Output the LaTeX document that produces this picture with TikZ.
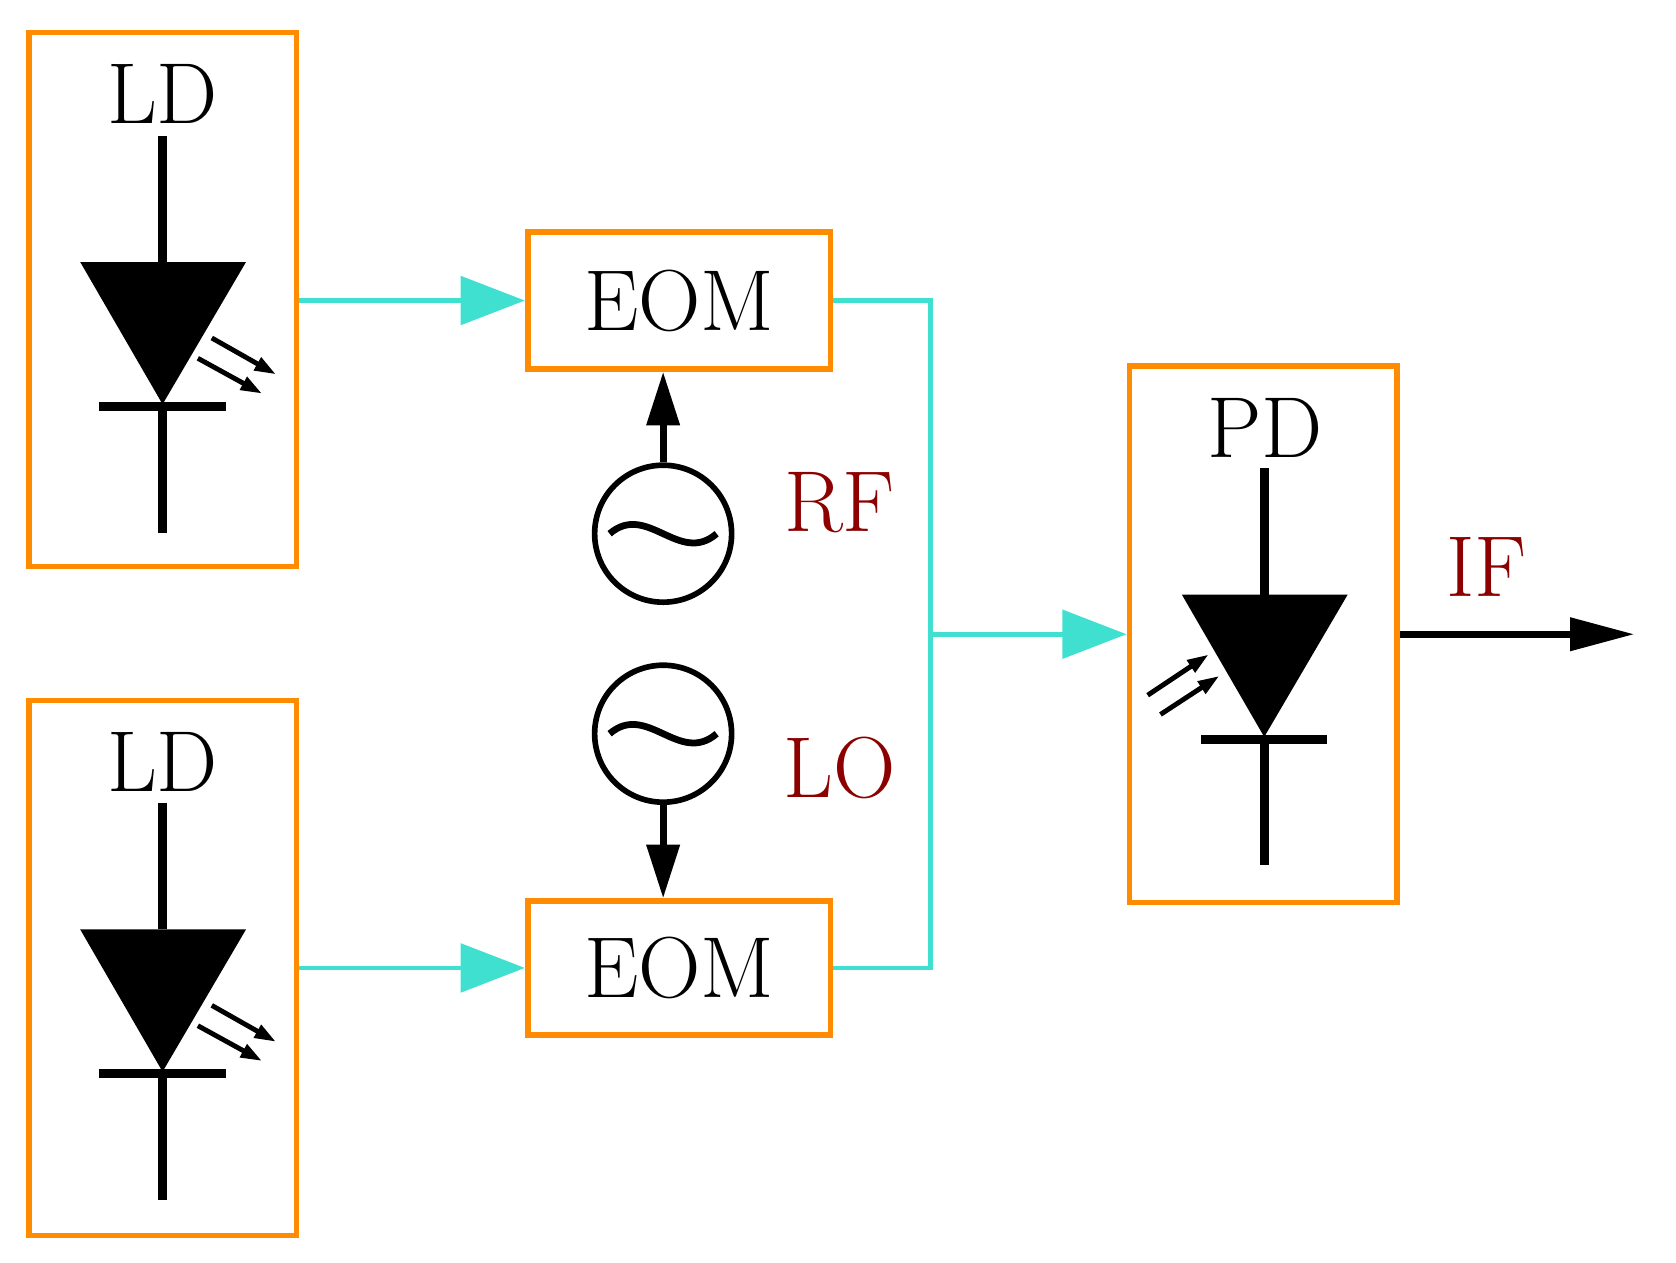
\documentclass[tikz,border=0pt]{standalone}
\usetikzlibrary{arrows.meta}
\definecolor{org}{RGB}{255,140,0}
\definecolor{cy}{RGB}{64,224,208}
\definecolor{dr}{RGB}{140,0,0}
\begin{document}
\begin{tikzpicture}[x=0.01cm,y=-0.01cm,
 box/.style={draw=org,line width=1.5pt,inner sep=0pt},
 big/.style={font=\fontsize{23}{28}\selectfont},
 cyl/.style={cy,line width=1.3pt},
 cyarr/.style={cyl,-{Triangle[length=0.6cm,width=0.45cm]}},
 blk/.style={line width=2.4pt},
 barr/.style={line width=1.8pt,-{Triangle[length=0.5cm,width=0.3cm]}},
 em/.style={line width=1.3pt,-{Triangle[length=0.2cm,width=0.13cm]}},
 src/.style={circle,draw,line width=1.5pt,minimum size=1.28cm,inner sep=0pt}]
\useasboundingbox (0,0) rectangle (1567,1180);
% diode pieces
\newcommand\mydiode[4]{% x, ytop, ylabel-offset, flipped arrows
 \fill (#1-77,#2+118) -- (#1+78,#2+118) -- (#1,#2+251) -- cycle;
 \draw[blk] (#1,#2) -- (#1,#2+118);
 \draw[blk] (#1-59,#2+253) -- (#1+59,#2+253);
 \draw[blk] (#1,#2+251) -- (#1,#2+371);}
% LD boxes
\node[box,minimum width=2.5cm,minimum height=4.99cm] (ld1) at (152,280) {};
\node[box,minimum width=2.5cm,minimum height=5cm] (ld2) at (152,905) {};
\node[big] (ldt1) at (152,88) {LD};
\node[big] (ldt2) at (152,712) {LD};
\mydiode{152}{127}{}{}
\mydiode{152}{751}{}{}
\foreach \dy in {0,624}{
 \draw[em] (185,335+\dy) -- (245,368+\dy);
 \draw[em] (198,316+\dy) -- (258,350+\dy);}
% EOM
\node[box,big,minimum width=2.83cm,minimum height=1.28cm] (eom1) at (635,281) {EOM};
\node[box,big,minimum width=2.83cm,minimum height=1.25cm] (eom2) at (635,905) {EOM};
% sources
\node[src] (rf) at (620,499) {};
\node[src] (lo) at (620,686) {};
\foreach \s in {rf,lo}
 \draw[line width=1.8pt] ([xshift=-0.5cm]\s.center) .. controls ([xshift=-0.15cm,yshift=0.3cm]\s.center) and ([xshift=0.15cm,yshift=-0.3cm]\s.center) .. ([xshift=0.5cm]\s.center);
\node[big,text=dr] (rft) at (785,470) {RF};
\node[big,text=dr] (lot) at (785,718) {LO};
\draw[barr] (rf.north) -- (eom1.south -| rf.north);
\draw[barr] (lo.south) -- (eom2.north -| lo.south);
% PD
\node[box,minimum width=2.5cm,minimum height=5.01cm] (pd) at (1181,593) {};
\node[big] (pdt) at (1183,400) {PD};
\mydiode{1182}{438}{}{}
\draw[em] (1073,650) -- (1130,612);
\draw[em] (1085,668) -- (1140,632);
% cyan
\coordinate (j1) at (870,281);
\coordinate (j2) at (870,905);
\coordinate (jm) at (870,593);
\draw[cyarr] (ld1.east |- eom1.west) -- (eom1.west);
\draw[cyarr] (ld2.east |- eom2.west) -- (eom2.west);
\draw[cyl] (eom1.east) -- (j1) -- (j2) -- (eom2.east);
\draw[cyarr] (jm) -- (pd.west);
% IF
\coordinate (ifend) at (1528,593);
\draw[line width=1.8pt,-{Triangle[length=0.6cm,width=0.3cm]}] (pd.east) -- (ifend);
\node[big,text=dr] (ift) at (1390,530) {IF};
\end{tikzpicture}
\end{document}
